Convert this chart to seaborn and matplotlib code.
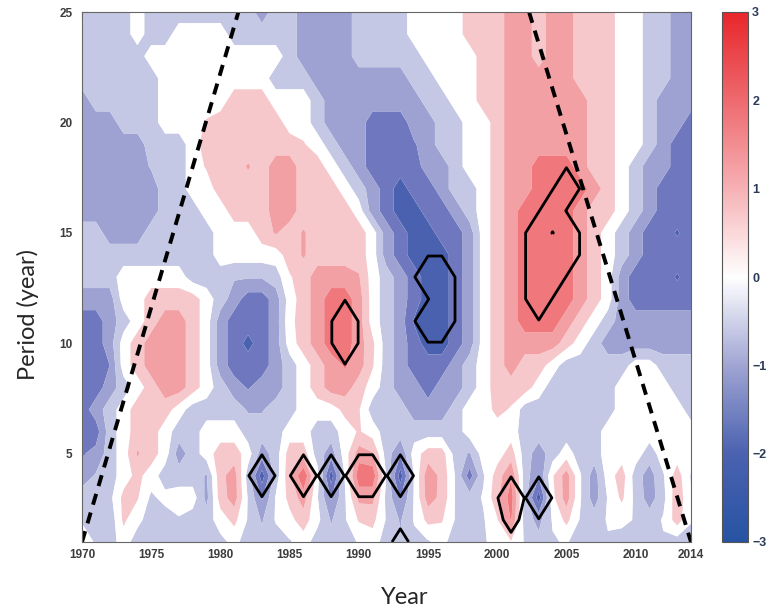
import numpy as np
import matplotlib
matplotlib.use('Agg')
import matplotlib.pyplot as plt
from matplotlib.colors import Normalize
from matplotlib.cm import ScalarMappable
import seaborn as sns

sns.set_style('ticks')
plt.rcParams['font.family'] = ['Liberation Sans', 'DejaVu Sans']

# band centres
W, L, M, D, K = 0.0, -0.5, -1.0, -1.5, -2.0
r, R, Q = 0.5, 1.0, 1.5

years = list(range(1970, 2015))
periods = list(range(1, 26))

# one row per period (year), columns 1970..2014
p01 = [0, -0.3, -0.5, 0, -0.5, -0.5, -0.5, -0.5, -0.3, -0.5, -0.4, -0.1, -0.5, -0.6, -0.5,
       -0.3, 0, -0.5, -0.6, -0.5, -0.2, 0, -0.5, -0.7, -0.4, -0.3, -0.1, -0.5, -0.5, -0.3,
       -0.1, 0.2, -0.3, -0.6, -0.3, -0.2, -0.5, -0.5, -0.3, -0.5, -0.5, -0.5, -0.3, -0.5, -0.5]
p02 = [-0.3, -0.5, -0.6, 0.35, -0.1, -0.5, -0.5, -0.3, -0.5, -0.5, 0, 0.4, -0.3, -0.8, -0.2,
       0.1, 0.5, -0.1, -0.8, -0.3, 0.3, 0.4, -0.3, -0.8, -0.2, 0.4, 0.3, -0.3, -0.4, -0.3,
       0.2, 1.3, -0.5, -0.9, -0.2, 0.4, -0.3, -0.5, -0.2, -0.1, -0.3, -0.5, -0.2, 0.5, -0.2]
p03 = [-0.5, -0.5, -0.4, 0.4, 0.3, -0.35, -0.1, 0, 0, -0.9, 0.5, 1.0, -0.3, -1.3, -0.2,
       0.4, 1.0, -0.2, -1.3, -0.3, 0.9, 0.9, -0.4, -1.3, -0.2, 1.0, 0.6, -0.3, -0.5, -0.2,
       0.6, 1.5, -0.5, -2.0, 0.1, 1.0, -0.2, -1.0, -0.2, 0.35, -0.4, -1.0, -0.4, 0.6, -0.2]
p04 = [-1.0, -0.7, -0.5, 0, 0.4, 0, -0.5, -0.5, -0.5, -0.8, 0.6, 1.0, -0.5, -2.0, -0.5,
       0.6, 1.7, 0, -2.0, -0.2, 1.6, 1.6, -0.3, -2.0, -0.2, 1.1, 0.6, -0.3, -1.5, -0.3,
       0.5, 1.2, -0.5, -1.2, 0.2, 1.0, -0.2, -1.0, 0, 0.5, -0.5, -1.0, -0.3, 0.5, -0.3]
p05 = [-1.3, -1.1, L, W, 0.8, r, W, M, L, W, r, r, W, M, L, r, r, L, M, W, R, 0.8, L, -1.2, W,
       r, r, L, -0.8, W, W, r, L, M, L, W, L, L, W, W, W, L, W, W, W]
p06 = [D, D, L, W, r, r, W, L, L, W, W, W, L, L, L, W, W, L, L, W, 0.3, W, L, L, L,
       L, L, L, W, W, W, W, L, L, L, L, L, L, W, W, W, W, W, W, W]
p07 = [D, M, L, W, r, r, r, W, L, L, L, L, -0.8, -0.8, L, L, W, W, W, 0.4, 0.3, L, L, L, M,
       M, M, L, W, W, 0.4, 0.2, L, L, L, L, L, L, L, W, W, W, W, W, L]
p08 = [D, D, M, L, W, r, R, R, r, W, L, M, -1.3, M, M, L, W, r, R, R, r, W, L, M, M,
       D, M, M, L, W, r, r, r, W, L, L, L, L, L, W, W, W, W, L, L]
p09 = [D, D, -1.25, W, r, R, R, R, r, W, M, D, D, D, M, L, W, r, R, 1.3, R, 0.3, L, M, D,
       D, D, M, L, W, r, R, r, r, W, L, L, L, L, L, W, W, L, L, L]
p10 = [D, D, M, W, r, R, R, R, r, W, M, D, -1.9, D, M, W, r, R, Q, Q, R, 0.35, L, M, D,
       K, K, D, M, W, r, R, R, R, R, r, W, L, M, M, M, M, M, M, M]
p11 = [D, D, M, L, W, r, R, R, r, W, M, D, D, D, M, 0.1, r, R, Q, Q, R, W, L, M, -1.8,
       K, K, D, M, W, r, R, Q, Q, Q, R, r, W, L, M, M, M, M, M, M]
p12 = [M, M, M, W, W, r, r, r, r, W, L, M, D, D, M, W, r, R, Q, Q, R, W, L, M, D,
       K, K, D, M, W, r, R, Q, Q, Q, Q, R, r, W, M, D, D, D, D, D]
p13 = [L, L, L, W, W, W, W, W, L, L, L, -0.7, -0.7, -0.7, L, 0.2, r, R, R, R, 0.8, W, L, M, D,
       K, K, D, M, W, r, R, Q, Q, Q, Q, R, r, W, M, D, D, D, -1.8, D]
p14 = [L, L, L, L, L, L, L, L, L, L, W, W, W, W, W, r, 0.8, r, r, r, r, W, M, D, K,
       K, K, D, M, W, r, R, Q, Q, Q, Q, R, r, W, L, M, D, D, D, D]
p15 = [L, L, M, M, M, L, L, L, L, L, W, W, W, r, 0.8, r, 0.8, r, r, r, r, W, M, D, K,
       K, D, D, M, W, r, R, Q, Q, Q, Q, R, r, W, L, M, D, D, -1.8, D]
p16 = [M, M, M, M, M, M, L, L, L, W, W, r, r, r, R, R, r, r, r, r, W, M, D, K, K,
       D, D, M, L, W, r, R, Q, Q, Q, Q, R, r, r, W, L, M, D, D, D]
p17 = [M, M, M, M, M, M, L, L, W, W, r, r, r, r, R, R, r, r, r, W, L, M, D, K, D,
       D, M, L, L, W, r, R, R, Q, Q, Q, Q, R, r, W, L, M, D, D, D]
p18 = [M, M, M, M, M, -0.7, L, L, W, 0.3, r, r, 0.8, r, R, R, r, r, W, L, M, D, D, D, D,
       M, M, L, W, W, r, R, R, Q, Q, Q, R, r, r, W, L, M, M, D, D]
p19 = [M, M, M, M, M, L, L, L, W, r, r, r, r, r, r, r, 0.3, W, L, M, M, D, D, D, -1.3,
       M, L, L, W, W, r, R, R, R, R, R, R, r, r, W, W, L, M, D, D]
p20 = [M, M, M, L, L, L, W, W, W, 0.3, r, r, r, r, r, W, W, L, M, M, M, D, D, D, M,
       M, L, L, W, W, r, R, R, R, R, R, R, r, r, W, W, L, M, M, D]
p21 = [M, L, L, L, L, L, W, W, W, W, W, r, r, r, W, W, W, L, M, M, M, M, M, M, M,
       L, L, W, W, r, r, R, R, R, R, R, R, r, r, W, W, L, M, M, M]
p22 = [L, L, L, L, L, L, W, W, W, W, W, W, W, W, L, L, L, M, M, M, M, M, M, M, L,
       L, W, W, W, r, r, R, R, R, R, R, r, r, r, W, W, L, L, M, M]
p23 = [L, L, L, L, L, W, W, W, W, W, W, W, W, W, W, L, M, M, M, M, L, L, L, L, L,
       W, W, W, W, r, r, R, R, r, R, R, r, r, r, W, W, L, L, M, M]
p24 = [L, L, L, L, W, L, L, W, W, W, W, L, L, L, L, L, M, M, M, M, L, L, L, L, W,
       W, W, W, r, r, r, R, R, r, R, R, r, r, r, W, W, L, L, M, M]
p25 = [L, L, L, L, W, L, L, L, L, L, L, L, L, M, L, L, M, M, M, M, L, L, L, L, W,
       W, W, W, r, r, r, R, R, r, R, R, r, r, r, W, W, L, L, M, M]

# significance ratio (>1 significant) at the outlined grid points
sig_years = [1983, 1986, 1988, 1990, 1991, 1993, 1993, 2001, 2001, 2003,
             1989, 1989, 1995, 1995, 1996, 1996, 1996,
             2003, 2003, 2003, 2003, 2004, 2004, 2004, 2005, 2005, 2005]
sig_periods = [4, 4, 4, 4, 4, 4, 1, 3, 2, 3,
               10, 11, 11, 13, 11, 12, 13,
               12, 13, 14, 15, 13, 14, 16, 14, 15, 17]
sig_ratio = [20, 20, 20, 20, 20, 20, 2.5, 20, 2.3, 20,
             20, 20, 20, 20, 20, 20, 20,
             20, 20, 20, 20, 20, 20, 20, 20, 20, 20]

# cone of influence
coi_left_years = [1970, 1981.3]
coi_left_periods = [1, 25]
coi_right_years = [2002.3, 2014]
coi_right_periods = [25, 1]

band_levels = [-3, -1.75, -1.25, -0.75, -0.25, 0.25, 0.75, 1.25, 1.75, 3]
band_colors = ['#4a61b0', '#6f78be', '#9da2d2', '#c5c8e4', '#ffffff',
               '#f7c8cb', '#f3a0a5', '#f0787d', '#ea4f55']
cbar_colors = ['#2753a3', '#4b62b0', '#a0a5d3', '#ffffff', '#f6b1b5', '#ee6a6f', '#e8262b']
cbar_ticks = [-3, -2, -1, 0, 1, 2, 3]
x_ticks = [1970, 1975, 1980, 1985, 1990, 1995, 2000, 2005, 2010, 2014]
y_ticks = [5, 10, 15, 20, 25]

power = np.array([p01, p02, p03, p04, p05, p06, p07, p08, p09, p10, p11, p12, p13,
                  p14, p15, p16, p17, p18, p19, p20, p21, p22, p23, p24, p25])
sig = np.zeros_like(power)
for yr, pr, v in zip(sig_years, sig_periods, sig_ratio):
    sig[periods.index(pr), years.index(yr)] = v

fig = plt.figure(figsize=(7.66, 6.10), dpi=100)
ax = fig.add_axes([82 / 766, 68 / 610, 609 / 766, 530 / 610])
cax = fig.add_axes([722 / 766, 68 / 610, 26 / 766, 530 / 610])

ax.contourf(years, periods, power, levels=band_levels, colors=band_colors, antialiased=True)
ax.contour(years, periods, sig, levels=[1.0], colors='black', linewidths=2.0)

sns.lineplot(x=coi_left_years, y=coi_left_periods, ax=ax, color='black',
             linewidth=2.8, linestyle=(0, (2.9, 2.1)))
sns.lineplot(x=coi_right_years, y=coi_right_periods, ax=ax, color='black',
             linewidth=2.8, linestyle=(0, (2.9, 2.1)))

ax.set_xlim(1970, 2014)
ax.set_ylim(1, 25)
ax.set_xticks(x_ticks)
ax.set_yticks(y_ticks)
ax.tick_params(direction='in', length=4, width=0.8, color='#555555', top=True, right=True,
               labelsize=8.5, labelcolor='#3c3c3c')
ax.tick_params(axis='x', pad=5)
ax.tick_params(axis='y', pad=7)
for lbl in ax.get_xticklabels() + ax.get_yticklabels():
    lbl.set_fontweight('bold')
for sp in ax.spines.values():
    sp.set_color('#666666')
    sp.set_linewidth(0.8)

ax.set_xlabel('Year', fontsize=17, family=['Lato', 'DejaVu Sans'], va='center')
ax.xaxis.set_label_coords((405 - 82) / 609, (542 - 597) / 530)
ax.set_ylabel('Period (year)', fontsize=17, family=['Lato', 'DejaVu Sans'], va='center')
ax.yaxis.set_label_coords((28 - 82) / 609, 0.43)

cmap_bar = sns.blend_palette(cbar_colors, as_cmap=True)
cb = fig.colorbar(ScalarMappable(norm=Normalize(-3, 3), cmap=cmap_bar), cax=cax, ticks=cbar_ticks)
cb.outline.set_edgecolor('#555555')
cb.outline.set_linewidth(0.8)
cax.tick_params(direction='in', length=4, width=0.8, color='#555555', labelsize=9,
                labelcolor='#2b3a58', pad=3)
for lbl in cax.get_yticklabels():
    lbl.set_fontweight('bold')

fig.savefig('out.png', dpi=100)
